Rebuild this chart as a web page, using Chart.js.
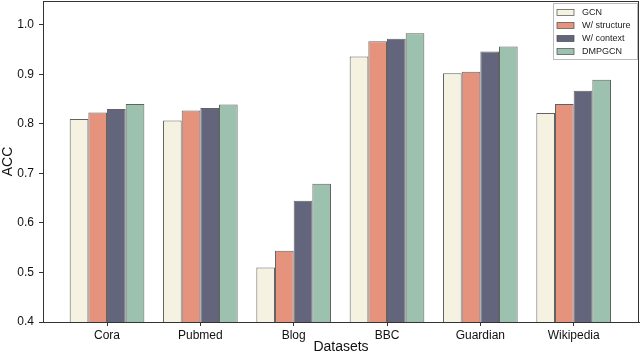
<!DOCTYPE html>
<html>
<head>
<meta charset="utf-8">
<script src="https://cdn.jsdelivr.net/npm/chart.js@4"></script>
<style>
html,body{margin:0;padding:0;background:#fff;}
#wrap{width:640px;height:357px;position:relative;}
</style>
</head>
<body>
<div id="wrap"><canvas id="c" width="640" height="357"></canvas></div>
<script>
const categories = ['Cora', 'Pubmed', 'Blog', 'BBC', 'Guardian', 'Wikipedia'];
const seriesNames = ['GCN', 'W/ structure', 'W/ context', 'DMPGCN'];
const gcn        = [0.810, 0.807, 0.510, 0.936, 0.902, 0.822];
const wStructure = [0.823, 0.827, 0.544, 0.967, 0.905, 0.840];
const wContext   = [0.830, 0.832, 0.645, 0.972, 0.946, 0.867];
const dmpgcn     = [0.840, 0.839, 0.679, 0.983, 0.956, 0.889];
const yTicks = [0.4, 0.5, 0.6, 0.7, 0.8, 0.9, 1.0];

const colors = ['#F6F2E2', '#E6937E', '#62657B', '#9CC1AE'];
const seriesValues = [gcn, wStructure, wContext, dmpgcn];

const datasets = seriesValues.map((vals, si) => ({
  label: seriesNames[si],
  data: vals.map((v, i) => ({x: i, y: v})),
  backgroundColor: colors[si],
  borderColor: 'rgba(70,70,70,0.85)',
  borderWidth: 1,
  borderSkipped: 'bottom',
  barPercentage: 1.0,
  categoryPercentage: 0.8
}));

const framePlugin = {
  id: 'frame',
  afterDraw(chart) {
    const a = chart.chartArea, ctx = chart.ctx;
    ctx.save();
    ctx.strokeStyle = '#333';
    ctx.lineWidth = 1;
    ctx.strokeRect(a.left + 0.5, a.top + 0.5, a.right - a.left - 1, a.bottom - a.top);
    // legend
    const x0 = 553.5, y0 = 3.5, w = 84, h = 56;
    ctx.fillStyle = 'rgba(255,255,255,0.9)';
    ctx.fillRect(x0, y0, w, h);
    ctx.strokeStyle = '#bbb';
    ctx.strokeRect(x0, y0, w, h);
    ctx.font = '9px "Liberation Sans", Arial, sans-serif';
    ctx.textBaseline = 'middle';
    chart.data.datasets.forEach((ds, i) => {
      const cy = 12.5 + i * 13;
      ctx.fillStyle = ds.backgroundColor;
      ctx.fillRect(557, cy - 3, 17, 6);
      ctx.strokeStyle = 'rgba(70,70,70,0.85)';
      ctx.lineWidth = 0.8;
      ctx.strokeRect(557, cy - 3, 17, 6);
      ctx.fillStyle = '#222';
      ctx.fillText(ds.label, 582, cy + 0.5);
    });
    ctx.restore();
  }
};

new Chart(document.getElementById('c'), {
  type: 'bar',
  data: { datasets },
  options: {
    responsive: false,
    animation: false,
    layout: { padding: { top: 1, right: 1, left: 0, bottom: 0 } },
    plugins: { legend: { display: false }, tooltip: { enabled: false } },
    scales: {
      x: {
        type: 'linear',
        offset: false,
        min: -0.686,
        max: 5.70,
        afterBuildTicks: (s) => { s.ticks = categories.map((c, i) => ({ value: i })); },
        grid: { display: true, offset: false, drawOnChartArea: false, tickLength: 4, tickColor: '#333' },
        border: { display: true, color: '#333' },
        ticks: {
          autoSkip: false,
          maxRotation: 0,
          padding: 2,
          color: '#111',
          font: { family: '"Liberation Sans", Arial, sans-serif', size: 12 },
          callback: (v) => (Number.isInteger(v) && categories[v] !== undefined) ? categories[v] : ''
        },
        title: { display: true, text: 'Datasets', color: '#111', padding: { top: 0, bottom: 1 },
                 font: { family: '"Liberation Sans", Arial, sans-serif', size: 14 } },
        afterFit: (s) => { s.height = 35; s.paddingLeft = 0; s.paddingRight = 0; }
      },
      y: {
        min: 0.4,
        max: 1.048,
        afterBuildTicks: (s) => { s.ticks = yTicks.map(v => ({ value: v })); },
        grid: { display: true, drawOnChartArea: false, tickLength: 4, tickColor: '#333' },
        border: { display: true, color: '#333' },
        ticks: {
          padding: 5,
          color: '#111',
          font: { family: '"Liberation Sans", Arial, sans-serif', size: 12 },
          callback: (v) => Number(v).toFixed(1)
        },
        title: { display: true, text: 'ACC', color: '#111', padding: 0,
                 font: { family: '"Liberation Sans", Arial, sans-serif', size: 14 } },
        afterFit: (s) => { s.width = 43; s.paddingTop = 0; s.paddingBottom = 0; }
      }
    }
  },
  plugins: [framePlugin]
});
</script>
</body>
</html>
